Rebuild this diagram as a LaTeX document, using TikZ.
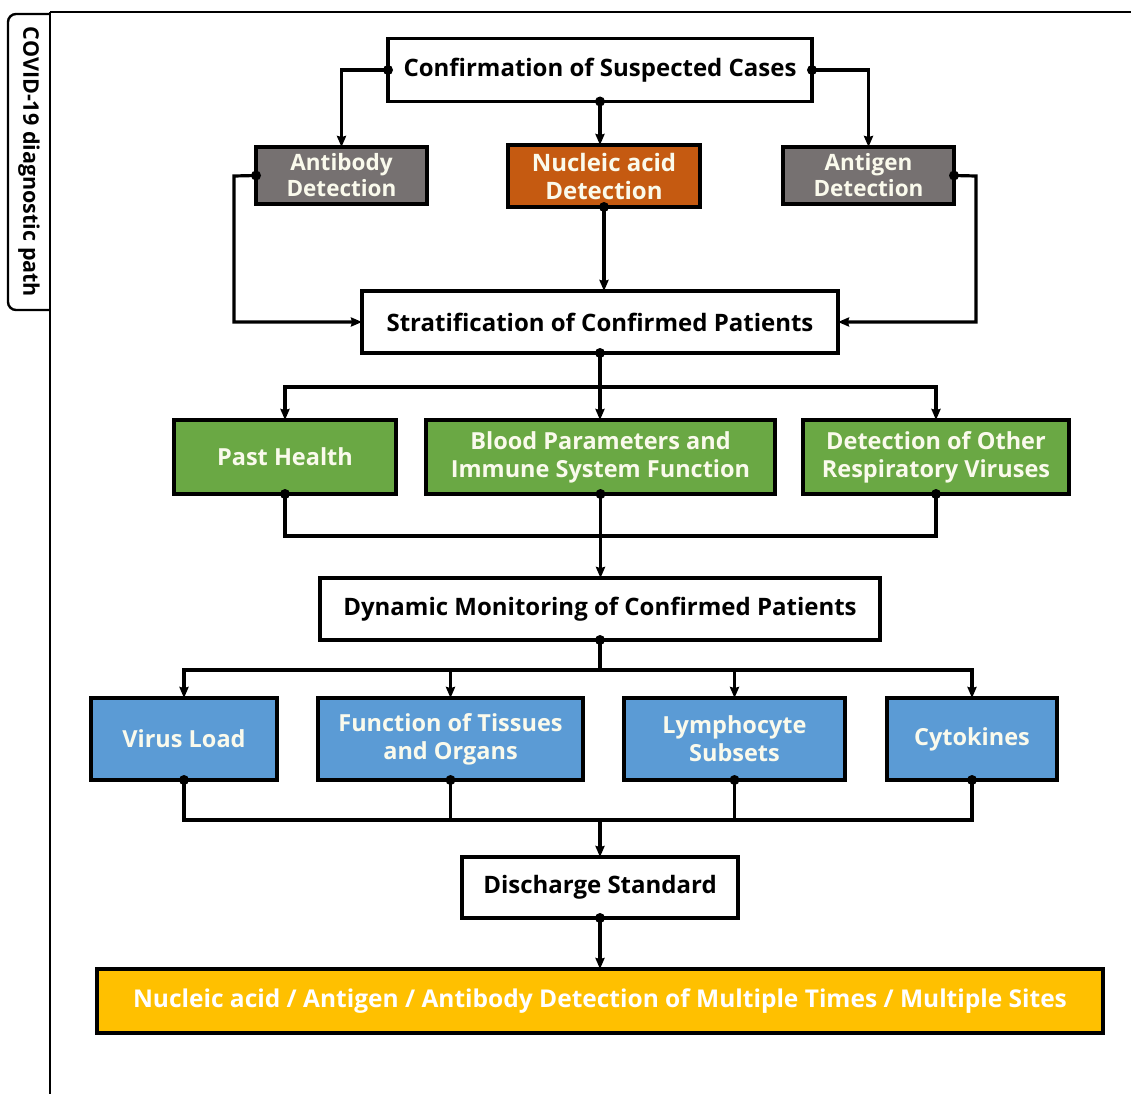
\documentclass[tikz,border=0pt]{standalone}
\usepackage{fontspec}
\setmainfont{Open Sans}
\usetikzlibrary{arrows.meta}
\definecolor{boxgray}{RGB}{118,113,113}
\definecolor{boxorange}{RGB}{197,90,17}
\definecolor{boxgreen}{RGB}{106,168,68}
\definecolor{boxblue}{RGB}{91,155,213}
\definecolor{boxyellow}{RGB}{255,192,0}
\definecolor{lighttext}{RGB}{250,250,236}
\tikzset{
  box/.style={draw=black, line width=3.4pt, rectangle, inner sep=0pt, outer sep=0pt, align=center, font=\bfseries\fontsize{23.5}{28}\selectfont},
  whitebox/.style={box, fill=white, text=black, font=\bfseries\fontsize{24}{28}\selectfont},
  colbox/.style={box, text=lighttext},
  conn/.style={line width=3.2pt, draw=black},
  arr/.style={conn, -{Stealth[length=11pt,width=9pt,inset=1pt]}},
}
\begin{document}
\begin{tikzpicture}[x=1pt,y=-1pt]
\useasboundingbox (0,0) rectangle (1131,1094);
% frame
\draw[line width=2.6pt] (50,12) -- (1131,12);
\draw[line width=2.6pt] (50,12) -- (50,1094);
\draw[line width=2.4pt, rounded corners=8pt] (50,14) -- (8,14) -- (8,310) -- (50,310);
\node[rotate=-90, font=\bfseries\fontsize{21.5}{24}\selectfont] (tab) at (29,162) {COVID-19 diagnostic path};

% boxes
\node[whitebox, minimum width=424pt, minimum height=63pt] (conf) at (600,70) {Confirmation of Suspected Cases};
\node[colbox, fill=boxgray, minimum width=171pt, minimum height=57pt, font=\bfseries\fontsize{22.5}{26}\selectfont] (ab) at (341.5,175.5) {Antibody\\Detection};
\node[colbox, fill=boxorange, minimum width=192pt, minimum height=62pt, font=\bfseries\fontsize{24}{28}\selectfont] (na) at (604,176) {Nucleic acid\\Detection};
\node[colbox, fill=boxgray, minimum width=171pt, minimum height=57pt, font=\bfseries\fontsize{22.5}{26}\selectfont] (ag) at (868.5,175.5) {Antigen\\Detection};
\node[whitebox, minimum width=476pt, minimum height=62pt] (strat) at (600,322) {Stratification of Confirmed Patients};
\node[colbox, fill=boxgreen, minimum width=222pt, minimum height=74pt] (ph) at (285,457) {Past Health};
\node[colbox, fill=boxgreen, minimum width=349pt, minimum height=74pt] (bp) at (600.5,457) {Blood Parameters and\\Immune System Function};
\node[colbox, fill=boxgreen, minimum width=266pt, minimum height=74pt] (dor) at (936,457) {Detection of Other\\Respiratory Viruses};
\node[whitebox, minimum width=560pt, minimum height=62pt] (dyn) at (600,609) {Dynamic Monitoring of Confirmed Patients};
\node[colbox, fill=boxblue, minimum width=186pt, minimum height=82pt] (vl) at (184,739) {Virus Load};
\node[colbox, fill=boxblue, minimum width=265pt, minimum height=82pt] (fto) at (450.5,739) {Function of Tissues\\and Organs};
\node[colbox, fill=boxblue, minimum width=221pt, minimum height=82pt] (ly) at (734.5,739) {Lymphocyte\\Subsets};
\node[colbox, fill=boxblue, minimum width=170pt, minimum height=82pt] (cy) at (972,739) {Cytokines};
\node[whitebox, minimum width=276pt, minimum height=61pt] (ds) at (600,887.5) {Discharge Standard};
\node[colbox, fill=boxyellow, text=white, minimum width=1006pt, minimum height=64pt, font=\bfseries\fontsize{24.5}{28}\selectfont] (fin) at (600,1001) {Nucleic acid / Antigen / Antibody Detection of Multiple Times / Multiple Sites};

% connectors level 1
\draw[arr] (conf.west) -| (ab.north);
\draw[arr] (conf.east) -| (ag.north);
\draw[arr] (conf.south) -- (conf.south |- na.north);
\fill (conf.west) circle (5pt);
\fill (conf.east) circle (5pt);
\fill (conf.south) circle (5pt);

% to stratification
\coordinate (abL) at (234,176);
\coordinate (agR) at (976,176);
\draw[arr] (ab.west) -- (abL) |- (strat.west);
\draw[arr] (ag.east) -- (agR) |- (strat.east);
\draw[arr] (na.south) -- (na.south |- strat.north);
\fill (ab.west) circle (5pt);
\fill (ag.east) circle (5pt);
\fill (na.south) circle (5pt);

% stratification to green row
\coordinate (b1) at (600,387);
\draw[conn] (strat.south) -- (b1);
\draw[arr] (b1) -| (ph.north);
\draw[arr] (b1) -| (dor.north);
\draw[arr] (b1) -- (b1 |- bp.north);
\fill (strat.south) circle (5pt);

% green row to dynamic
\coordinate (b2) at (285,536);
\draw[conn] (ph.south) -- (b2) -| (dor.south);
\draw[arr] (bp.south) -- (bp.south |- dyn.north);
\fill (ph.south) circle (5pt);
\fill (bp.south) circle (5pt);
\fill (dor.south) circle (5pt);

% dynamic to blue row
\coordinate (b3) at (600,670);
\draw[conn] (dyn.south) -- (b3);
\draw[arr] (b3) -| (vl.north);
\draw[arr] (b3) -| (fto.north);
\draw[arr] (b3) -| (ly.north);
\draw[arr] (b3) -| (cy.north);
\fill (dyn.south) circle (5pt);

% blue row to discharge
\coordinate (b4) at (184,820);
\coordinate (b5) at (600,820);
\draw[conn] (vl.south) -- (b4) -| (cy.south);
\draw[conn] (fto.south) -- (fto.south |- b4);
\draw[conn] (ly.south) -- (ly.south |- b4);
\draw[arr] (b5) -- (ds.north);
\fill (vl.south) circle (5pt);
\fill (fto.south) circle (5pt);
\fill (ly.south) circle (5pt);
\fill (cy.south) circle (5pt);

% discharge to final
\draw[arr] (ds.south) -- (fin.north);
\fill (ds.south) circle (5pt);
\end{tikzpicture}
\end{document}
